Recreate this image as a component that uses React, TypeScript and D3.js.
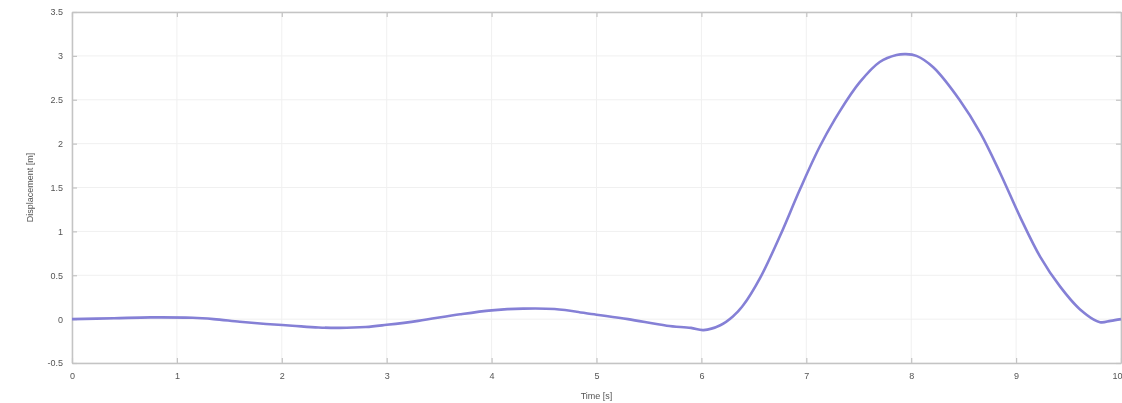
import { useEffect, useRef } from "react";
import * as d3 from "d3";

// time samples [s] and displacement [m]
const times = [
  0, 0.4, 0.75, 1.15, 1.35, 1.6, 1.85, 2.1, 2.35, 2.55, 2.8, 3.0, 3.3, 3.7, 4.0,
  4.3, 4.6, 5.0, 5.3, 5.67, 5.9, 6.02, 6.18, 6.3, 6.4, 6.56, 6.75, 6.94, 7.13,
  7.32, 7.51, 7.7, 7.86, 7.95, 8.05, 8.21, 8.46, 8.66, 8.85, 9.04, 9.23, 9.42,
  9.61, 9.8, 9.9, 10,
];
const displacement = [
  0, 0.01, 0.02, 0.015, 0.0, -0.03, -0.055, -0.075, -0.095, -0.1, -0.09, -0.065,
  -0.02, 0.055, 0.1, 0.12, 0.115, 0.05, 0.0, -0.075, -0.1, -0.125, -0.07, 0.03,
  0.16, 0.47, 0.95, 1.48, 1.97, 2.37, 2.7, 2.93, 3.01, 3.02, 3.0, 2.87, 2.5,
  2.12, 1.66, 1.16, 0.71, 0.37, 0.11, -0.035, -0.02, 0,
];

const xTicks = [0, 1, 2, 3, 4, 5, 6, 7, 8, 9, 10];
const yTicks = [-0.5, 0, 0.5, 1, 1.5, 2, 2.5, 3, 3.5];

const width = 1122;
const height = 403;
const left = 72;
const right = 1121;
const top = 12;
const bottom = 363;

export default function App() {
  const ref = useRef<SVGSVGElement>(null);

  useEffect(() => {
    const svg = d3.select(ref.current);
    svg.selectAll("g").remove();

    const x = d3.scaleLinear().domain([0, 10]).range([left, right]);
    const y = d3.scaleLinear().domain([-0.5, 3.5]).range([bottom, top]);

    const root = svg.append("g").attr("filter", "url(#soft)");

    // grid
    const grid = root.append("g").attr("stroke", "#f0f0f0").attr("stroke-width", 1);
    grid
      .selectAll("line.gx")
      .data(xTicks)
      .join("line")
      .attr("x1", (d) => x(d))
      .attr("x2", (d) => x(d))
      .attr("y1", top)
      .attr("y2", bottom);
    grid
      .selectAll("line.gy")
      .data(yTicks)
      .join("line")
      .attr("class", "gy")
      .attr("x1", left)
      .attr("x2", right)
      .attr("y1", (d) => y(d))
      .attr("y2", (d) => y(d));

    const fmt = (d: d3.NumberValue) => String(d);
    const axisStyle = (g: d3.Selection<SVGGElement, unknown, null, undefined>) => {
      g.select(".domain").attr("stroke", "#c4c4c4").attr("stroke-width", 1.5);
      g.selectAll(".tick line").attr("stroke", "#c4c4c4").attr("stroke-width", 1.2);
      g.selectAll(".tick text")
        .attr("fill", "#555")
        .style("font-family", "Arial, Liberation Sans, sans-serif")
        .style("font-size", "9px");
    };

    // bottom
    const xAxis = root
      .append("g")
      .attr("transform", `translate(0,${bottom})`)
      .call(d3.axisBottom(x).tickValues(xTicks).tickFormat(fmt).tickSizeInner(-5).tickSizeOuter(0).tickPadding(10))
      .call(axisStyle);
    // last label sits on the window edge
    xAxis
      .selectAll<SVGTextElement, number>(".tick text")
      .filter((d) => d === 10)
      .attr("text-anchor", "end")
      .attr("dx", 1);
    // top
    root
      .append("g")
      .attr("transform", `translate(0,${top})`)
      .call(d3.axisTop(x).tickValues(xTicks).tickFormat(() => "").tickSizeInner(-5).tickSizeOuter(0))
      .call(axisStyle);
    // left
    root
      .append("g")
      .attr("transform", `translate(${left},0)`)
      .call(d3.axisLeft(y).tickValues(yTicks).tickFormat(fmt).tickSizeInner(-5).tickSizeOuter(0).tickPadding(9))
      .call(axisStyle);
    // right
    root
      .append("g")
      .attr("transform", `translate(${right},0)`)
      .call(d3.axisRight(y).tickValues(yTicks).tickFormat(() => "").tickSizeInner(-5).tickSizeOuter(0))
      .call(axisStyle);

    // labels
    root
      .append("text")
      .attr("x", (left + right) / 2)
      .attr("y", 399)
      .attr("text-anchor", "middle")
      .attr("fill", "#555")
      .style("font-family", "Arial, Liberation Sans, sans-serif")
      .style("font-size", "9px")
      .text("Time [s]");
    root
      .append("text")
      .attr("transform", `translate(33,${(top + bottom) / 2}) rotate(-90)`)
      .attr("text-anchor", "middle")
      .attr("fill", "#555")
      .style("font-family", "Arial, Liberation Sans, sans-serif")
      .style("font-size", "9px")
      .text("Displacement [m]");

    // data line
    const pts = times.map((t, i) => [t, displacement[i]] as [number, number]);
    const line = d3
      .line<[number, number]>()
      .x((d) => x(d[0]))
      .y((d) => y(d[1]))
      .curve(d3.curveCatmullRom.alpha(0.5));
    root
      .append("path")
      .datum(pts)
      .attr("d", line)
      .attr("fill", "none")
      .attr("stroke", "#8580d6")
      .attr("stroke-width", 2.6)
      .attr("stroke-linejoin", "round");
  }, []);

  return (
    <svg
      ref={ref}
      width={width}
      height={height}
      style={{ position: "absolute", left: 0, top: 0, background: "#fff" }}
    >
      <defs>
        <filter id="soft" x="0" y="0" width="100%" height="100%">
          <feGaussianBlur stdDeviation="0.5" />
        </filter>
      </defs>
    </svg>
  );
}
